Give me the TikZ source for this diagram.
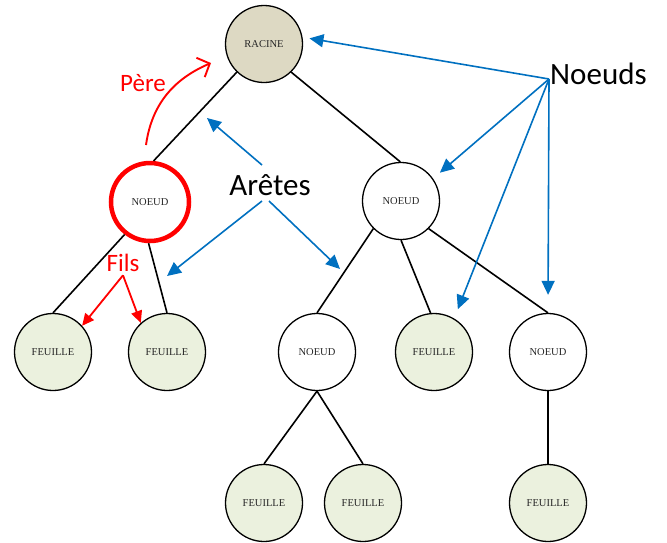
\documentclass[tikz,border=0pt]{standalone}
\usepackage{fontspec}
\setmainfont{Liberation Serif}
\newfontfamily\calibri{Carlito}
\usetikzlibrary{arrows.meta}
\definecolor{racinefill}{HTML}{DDD9C3}
\definecolor{feuillefill}{HTML}{EBF1DE}
\definecolor{bleu}{HTML}{0070C0}

\begin{document}
\begin{tikzpicture}[x=1pt, y=-1pt,
    rond/.style={circle, draw, line width=1.3pt, minimum size=77pt, inner sep=0pt,
      font=\fontsize{10.5}{11}\selectfont, text=black!85},
    feuille/.style={rond, fill=feuillefill},
    arete/.style={line width=1.6pt},
    etiq/.style={font=\calibri\fontsize{31}{34}\selectfont, inner sep=0pt},
    etiqrouge/.style={font=\calibri\fontsize{25}{28}\selectfont, text=red},
    fbleue/.style={bleu, line width=1.6pt, -{Triangle[length=14pt, width=13pt]}},
    frouge/.style={red, line width=1.8pt, -{Triangle[length=12pt, width=11pt]}}]
      \useasboundingbox (0,0) rectangle (667,542);

      \node[rond, fill=racinefill] (racine) at (264,44) {RACINE};
      \node[rond, draw=red, line width=4.5pt, minimum size=78pt] (n1) at (150,202) {NOEUD};
      \node[rond] (n2) at (401,201) {NOEUD};
      \node[rond] (n3) at (317,352) {NOEUD};
      \node[rond] (n4) at (548,352) {NOEUD};

      \foreach \nom/\x/\y in {f1/53/352, f2/167/352, f3/434/352, f4/264/503, f5/363/503, f6/548/503}
      {
        \node[feuille] (\nom) at (\x,\y) {FEUILLE};
      }

      \draw[arete] (racine.-134) -- (n1.85);
      \draw[arete] (racine.-46) -- (n2.91);
      \draw[arete] (n1.-128) -- (f1.north);
      \draw[arete] (n1.-92) -- (f2.north);
      \draw[arete] (n2.-135) -- (n3.north);
      \draw[arete] (n2.-90) -- (f3.95);
      \draw[arete] (n2.-45) -- (n4.north);
      \draw[arete] (n3.south) -- (f4.north);
      \draw[arete] (n3.south) -- (f5.north);
      \draw[arete] (n4.south) -- (f6.north);

      \node[etiq] (aretes) at (270,185) {Arêtes};
      \node[etiq, anchor=west] (noeuds) at (550,74) {Noeuds};
      \node[etiqrouge] (pere) at (143,83) {Père};
      \node[etiqrouge] (fils) at (123,263) {Fils};

      \coordinate (a0) at (262,165);
      \coordinate (a1) at (262,201);
      \coordinate (a2) at (269,201);
      \coordinate (t0) at (207,118);
      \coordinate (t1) at (167,276);
      \coordinate (t2) at (340,269);
      \draw[fbleue] (a0) -- (t0);
      \draw[fbleue] (a1) -- (t1);
      \draw[fbleue] (a2) -- (t2);

      \coordinate (nsrc) at (549,79);
      \draw[fbleue, shorten >=7pt] (nsrc) -- (racine.10);
      \draw[fbleue, shorten >=9pt] (nsrc) -- (n2.35);
      \draw[fbleue, shorten >=10pt] (nsrc) -- (f3.59);
      \draw[fbleue, shorten >=18pt] (nsrc) -- (n4.north);

      \draw[frouge] (fils.south) -- (f1.42);
      \draw[frouge] (fils.south) -- (f2.132);

      \coordinate (p0) at (146,145);
      \coordinate (p1) at (211,63);
      \draw[red, line width=1.9pt, -{Straight Barb[length=10pt, width=21pt]}]
        (p0) .. controls (152,102) and (176,78) .. (p1);
    \end{tikzpicture}
\end{document}
